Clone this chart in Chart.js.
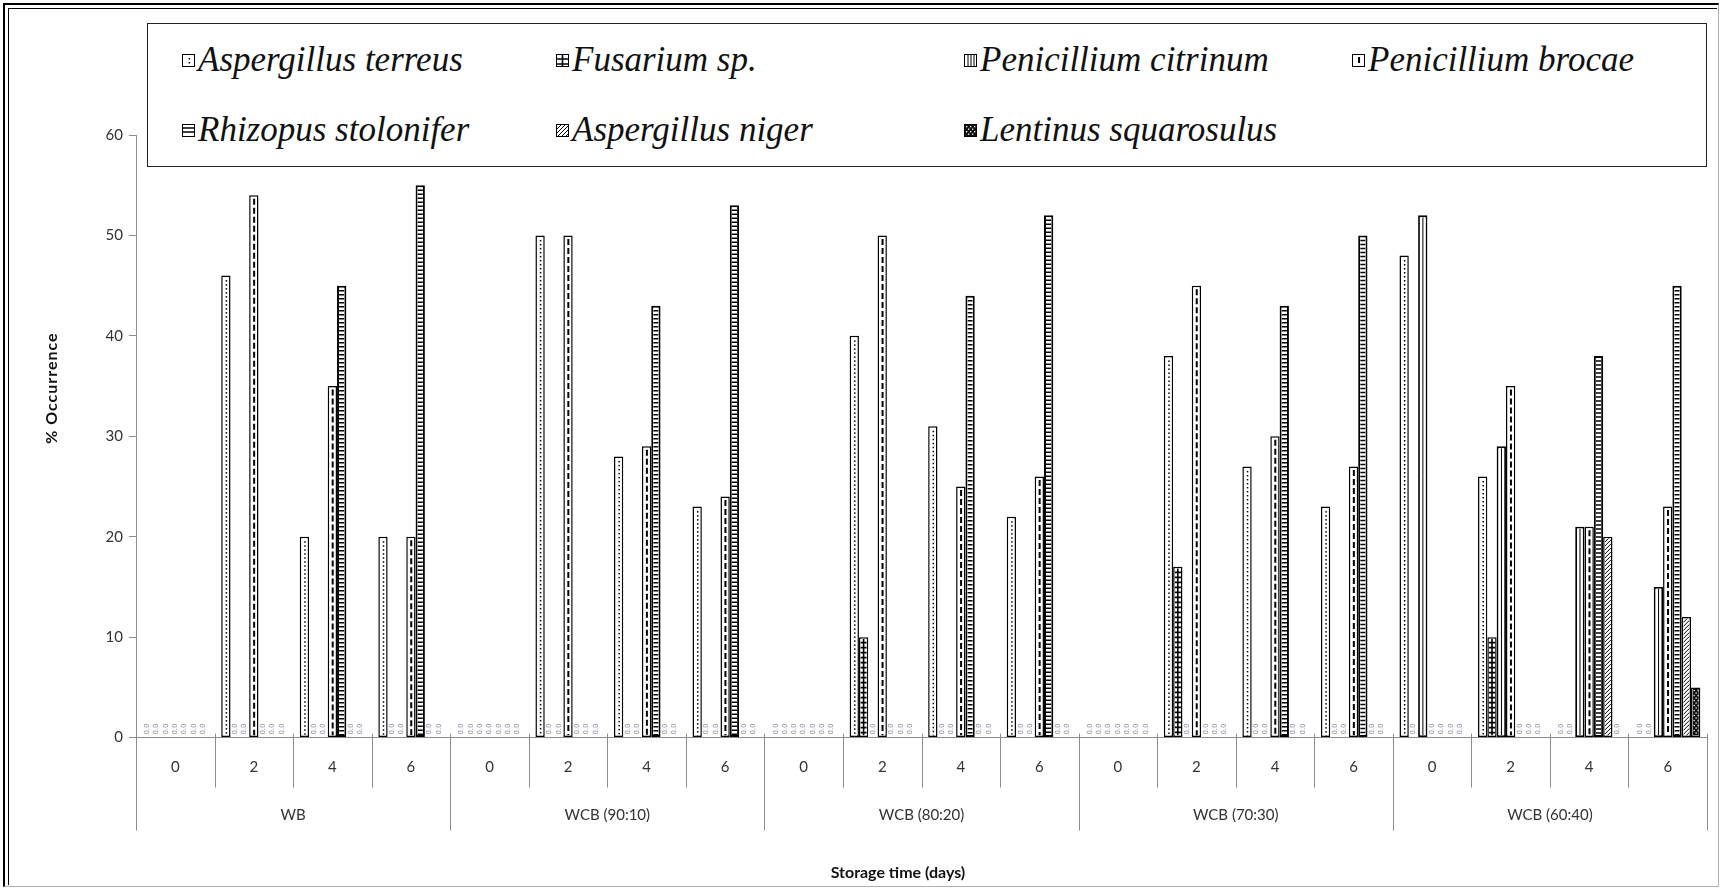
<!DOCTYPE html>
<html>
<head>
<meta charset="utf-8">
<title>% Occurrence of fungi during storage</title>
<script src="https://cdn.jsdelivr.net/npm/chart.js@4.4.1/dist/chart.umd.min.js"></script>
<style>
  html, body { margin: 0; padding: 0; background: #fff; }
  #wrap { position: relative; width: 1721px; height: 889px; overflow: hidden; background: #fff; }
  #chart { position: absolute; left: 0; top: 0; }
  .frame { position: absolute; pointer-events: none; box-sizing: border-box; }
  #frameOuter { left: 3px; top: 3px; width: 1716px; height: 884px;
    border-left: 2px solid #000; border-top: 2px solid #000;
    border-right: 1px solid #b0b0b0; border-bottom: 1px solid #b0b0b0; }
  #frameInner { left: 8px; top: 8px; width: 1709px; height: 877px;
    border-left: 1px solid #000; border-top: 1px solid #000; }
  #legend { position: absolute; left: 147px; top: 23px; width: 1560px; height: 144px;
    border: 1.5px solid #222; box-sizing: border-box; background: #fff; }
  .item { position: absolute; height: 40px; display: flex; align-items: center;
    font-family: "Liberation Serif", "Times New Roman", serif; font-style: italic;
    font-size: 35px; color: #111; white-space: nowrap; }
  .item canvas { display: block; margin-right: 3px; }
</style>
</head>
<body>
<div id="wrap">
  <canvas id="chart" width="1721" height="889"></canvas>
  <div id="legend"></div>
  <div class="frame" id="frameOuter"></div>
  <div class="frame" id="frameInner"></div>
</div>
<script>
// Treatments (groups) and storage days within each group
const groups = ['WB', 'WCB (90:10)', 'WCB (80:20)', 'WCB (70:30)', 'WCB (60:40)'];
const days = ['0', '2', '4', '6'];
const dayLabels = groups.flatMap(() => days);

// Y axis range
const yTicks = [0, 10, 20, 30, 40, 50, 60];

const xTitle = 'Storage time (days)';
const yTitle = '% Occurrence';

const seriesNames = ['Aspergillus terreus', 'Fusarium sp.', 'Penicillium citrinum', 'Penicillium brocae',
  'Rhizopus stolonifer', 'Aspergillus niger', 'Lentinus squarosulus'];

// % occurrence, 20 values each: WB 0/2/4/6, WCB(90:10) 0/2/4/6, ...
const aspergillusTerreus   = [0, 46, 20, 20,  0, 50, 28, 23,  0, 40, 31, 22,  0, 38, 27, 23,  48, 26, 0, 0];
const fusariumSp           = [0, 0, 0, 0,     0, 0, 0, 0,     0, 10, 0, 0,    0, 17, 0, 0,    0, 10, 0, 0];
const penicilliumCitrinum  = [0, 0, 0, 0,     0, 0, 0, 0,     0, 0, 0, 0,     0, 0, 0, 0,     52, 29, 21, 15];
const penicilliumBrocae    = [0, 54, 35, 20,  0, 50, 29, 24,  0, 50, 25, 26,  0, 45, 30, 27,  0, 35, 21, 23];
const rhizopusStolonifer   = [0, 0, 45, 55,   0, 0, 43, 53,   0, 0, 44, 52,   0, 0, 43, 50,   0, 0, 38, 45];
const aspergillusNiger     = [0, 0, 0, 0,     0, 0, 0, 0,     0, 0, 0, 0,     0, 0, 0, 0,     0, 0, 20, 12];
const lentinusSquarosulus  = [0, 0, 0, 0,     0, 0, 0, 0,     0, 0, 0, 0,     0, 0, 0, 0,     0, 0, 0, 5];

const seriesValues = [aspergillusTerreus, fusariumSp, penicilliumCitrinum, penicilliumBrocae,
  rhizopusStolonifer, aspergillusNiger, lentinusSquarosulus];

// ---- monochrome fill patterns (drawn inside a rectangle l,t,w,h) ----
function dotFill(ctx, l, t, w, h) {
  ctx.fillStyle = '#000';
  const cx = l + w * 0.58;
  for (let y = t + 3; y < t + h; y += 4) ctx.fillRect(cx - 0.75, y, 1.5, 1.5);
}
function gridFill(ctx, l, t, w, h) {
  ctx.strokeStyle = '#000'; ctx.lineWidth = 1.6;
  ctx.beginPath();
  for (let y = t + 4; y < t + h; y += 5) { ctx.moveTo(l, y); ctx.lineTo(l + w, y); }
  ctx.moveTo(l + w / 2, t); ctx.lineTo(l + w / 2, t + h);
  ctx.stroke();
}
function vlineFill(ctx, l, t, w, h) {
  ctx.strokeStyle = '#000'; ctx.lineWidth = 1;
  ctx.beginPath();
  for (let x = l + 3; x < l + w - 1; x += 3) { ctx.moveTo(x, t); ctx.lineTo(x, t + h); }
  ctx.stroke();
}
function dashFill(ctx, l, t, w, h) {
  ctx.strokeStyle = '#000'; ctx.lineWidth = 2;
  ctx.setLineDash([6, 3]);
  ctx.beginPath();
  ctx.moveTo(l + w * 0.55, t + 2); ctx.lineTo(l + w * 0.55, t + h);
  ctx.stroke();
  ctx.setLineDash([]);
}
function ladderFill(ctx, l, t, w, h) {
  ctx.strokeStyle = '#000'; ctx.lineWidth = 1.5;
  ctx.beginPath();
  for (let y = t + 3; y < t + h; y += 4) { ctx.moveTo(l, y); ctx.lineTo(l + w, y); }
  ctx.stroke();
}
function diagFill(ctx, l, t, w, h) {
  ctx.strokeStyle = '#000'; ctx.lineWidth = 1;
  ctx.beginPath();
  for (let y = t - w; y < t + h + w; y += 4) { ctx.moveTo(l, y + w); ctx.lineTo(l + w, y); }
  ctx.stroke();
}
function checkFill(ctx, l, t, w, h) {
  ctx.fillStyle = '#111'; ctx.fillRect(l, t, w, h);
  ctx.fillStyle = '#fff';
  let r = 0;
  for (let y = t + 1; y < t + h - 1; y += 2.5, r++) {
    for (let x = l + 1 + (r % 2) * 2; x < l + w - 1; x += 4) ctx.fillRect(x, y, 1.3, 1.3);
  }
}
const fills = [dotFill, gridFill, vlineFill, dashFill, ladderFill, diagFill, checkFill];
const borderWidths = [1.5, 1.5, 1.8, 1.5, 2, 1.5, 1.5];

// ---- legend (HTML, real text) ----
const legendEl = document.getElementById('legend');
const legendCols = [34, 408, 816, 1204];
const legendRows = [16, 86];
seriesNames.forEach((name, i) => {
  const item = document.createElement('div');
  item.className = 'item';
  item.style.left = legendCols[i % 4] + 'px';
  item.style.top = legendRows[Math.floor(i / 4)] + 'px';
  const ic = document.createElement('canvas');
  ic.width = 13; ic.height = 13;
  const c = ic.getContext('2d');
  c.fillStyle = '#fff'; c.fillRect(0, 0, 13, 13);
  c.save(); c.beginPath(); c.rect(1, 1, 11, 11); c.clip();
  fills[i](c, 1, 1, 11, 11);
  c.restore();
  c.strokeStyle = '#000'; c.lineWidth = 1; c.strokeRect(0.5, 0.5, 12, 12);
  item.appendChild(ic);
  const span = document.createElement('span');
  span.textContent = name;
  item.appendChild(span);
  legendEl.appendChild(item);
});

// ---- plugins ----
// pattern fills inside each bar, positioned from the bar elements
const barPatterns = {
  id: 'barPatterns',
  afterDatasetDraw(chart, args) {
    const ctx = chart.ctx;
    const i = args.index;
    const bw = borderWidths[i];
    args.meta.data.forEach((el, j) => {
      const v = chart.data.datasets[i].data[j];
      if (!v) return;
      const p = el.getProps(['x', 'y', 'base', 'width'], true);
      const l = p.x - p.width / 2;
      ctx.save();
      ctx.beginPath();
      ctx.rect(l + bw, p.y + bw, p.width - 2 * bw, p.base - p.y - 2 * bw);
      ctx.clip();
      fills[i](ctx, l + bw, p.y + bw, p.width - 2 * bw, p.base - p.y - 2 * bw);
      ctx.restore();
    });
  }
};

// small value labels on the zero bars
const zeroLabels = {
  id: 'zeroLabels',
  afterDatasetsDraw(chart) {
    const ctx = chart.ctx;
    ctx.save();
    ctx.font = '7px "DejaVu Sans"';
    ctx.fillStyle = '#8a88a2';
    ctx.textAlign = 'left';
    ctx.textBaseline = 'middle';
    chart.data.datasets.forEach((ds, i) => {
      chart.getDatasetMeta(i).data.forEach((el, j) => {
        if (ds.data[j] !== 0) return;
        const p = el.getProps(['x', 'base'], true);
        ctx.save();
        ctx.translate(p.x, p.base - 3);
        ctx.rotate(-Math.PI / 2);
        ctx.fillText(String(ds.data[j].toFixed(1)), 0, 0);
        ctx.restore();
      });
    });
    ctx.restore();
  }
};

// two-level category axis: day separators, group separators, group names, axis titles
const groupAxis = {
  id: 'groupAxis',
  afterDraw(chart) {
    const x = chart.scales.x;
    const y = chart.scales.y;
    const ctx = chart.ctx;
    const n = dayLabels.length;
    const half = (x.getPixelForValue(1) - x.getPixelForValue(0)) / 2;
    const y0 = x.top;
    ctx.save();
    ctx.strokeStyle = '#8c8c8c';
    ctx.lineWidth = 1;
    ctx.beginPath();
    for (let i = 0; i <= n; i++) {
      const px = Math.round(x.getPixelForValue(Math.min(i, n - 1)) + (i === n ? half : -half)) + 0.5;
      const end = (i % days.length === 0) ? 93 : 50;
      ctx.moveTo(px, y0 - 4);
      ctx.lineTo(px, y0 + end);
    }
    ctx.stroke();
    ctx.fillStyle = '#333';
    ctx.font = '15px Lato';
    ctx.textAlign = 'center';
    ctx.textBaseline = 'middle';
    groups.forEach((g, k) => {
      const a = x.getPixelForValue(k * days.length);
      const b = x.getPixelForValue(k * days.length + days.length - 1);
      ctx.fillText(g, (a + b) / 2, y0 + 78);
    });
    // axis titles
    ctx.fillStyle = '#111';
    ctx.font = 'bold 16px Lato';
    ctx.fillText(xTitle, x.left + (x.right - x.left) * 0.485, chart.height - 16);
    ctx.save();
    ctx.translate(52, y.top + (y.bottom - y.top) * 0.42);
    ctx.rotate(-Math.PI / 2);
    ctx.letterSpacing = '1px';
    ctx.fillText(yTitle, 0, 0);
    ctx.restore();
    ctx.restore();
  }
};

const datasets = seriesNames.map((name, i) => ({
  label: name,
  data: seriesValues[i],
  backgroundColor: '#fff',
  borderColor: '#000',
  borderWidth: borderWidths[i],
  borderSkipped: false,
  barPercentage: 1.0,
  categoryPercentage: 0.83
}));

new Chart(document.getElementById('chart'), {
  type: 'bar',
  data: { labels: dayLabels, datasets },
  plugins: [barPatterns, zeroLabels, groupAxis],
  options: {
    responsive: false,
    animation: false,
    devicePixelRatio: 1,
    layout: { padding: { top: 135, right: 14, left: 0, bottom: 0 } },
    plugins: { legend: { display: false }, tooltip: { enabled: false } },
    scales: {
      x: {
        type: 'category',
        grid: { display: false, drawTicks: false },
        border: { display: true, color: '#8c8c8c', width: 1 },
        ticks: { color: '#333', font: { family: 'Lato', size: 15 }, padding: 21, maxRotation: 0, autoSkip: false },
        afterFit(scale) { scale.height = 151.4; }
      },
      y: {
        min: yTicks[0],
        max: yTicks[yTicks.length - 1],
        afterBuildTicks(scale) { scale.ticks = yTicks.map(v => ({ value: v })); },
        grid: { display: true, drawOnChartArea: false, drawTicks: true, tickLength: 7, color: '#8c8c8c' },
        border: { display: true, color: '#8c8c8c', width: 1 },
        ticks: { color: '#333', font: { family: 'Lato', size: 15 }, padding: 6 },
        afterFit(scale) { scale.width = 136; }
      }
    }
  }
});
</script>
</body>
</html>
